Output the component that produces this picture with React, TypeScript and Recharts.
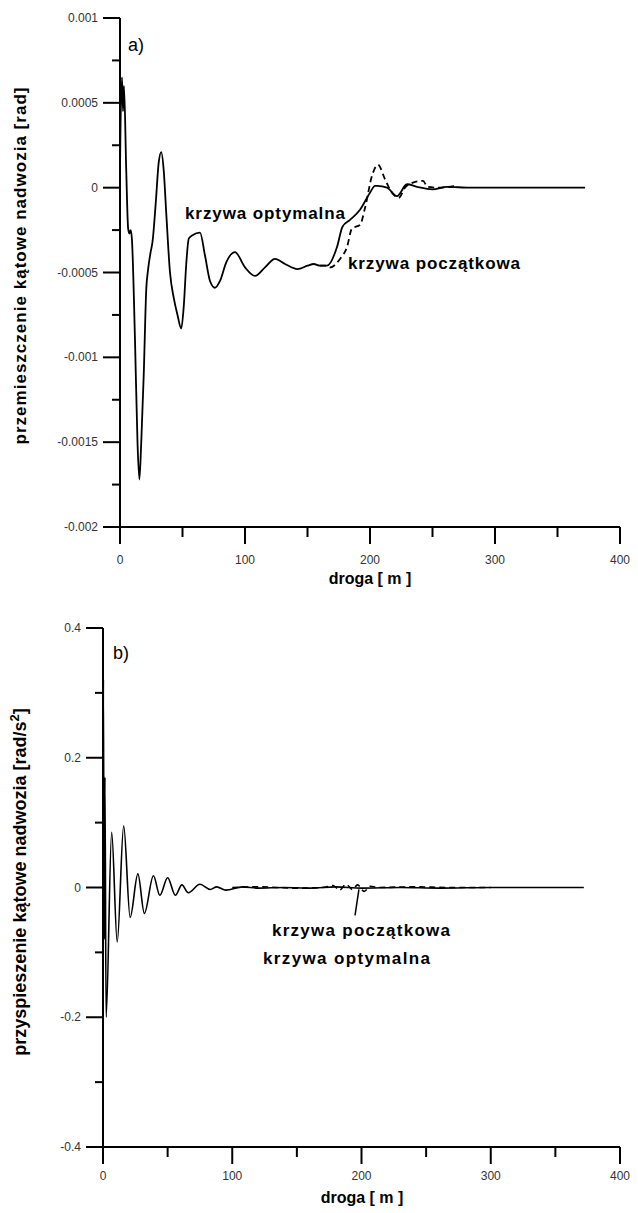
import React from "react";
import { Line, LineChart, ReferenceLine, XAxis, YAxis } from "recharts";

// a) angular displacement of the body [rad] vs distance [m]
const topDist = [
  0, 0.3, 1.6, 2.4, 3.2, 5, 6.5, 7.5, 8.5, 9.5, 12, 14, 15.5, 17, 19, 21, 22.5, 24.5, 26, 28.5, 31, 33, 35, 37,
  40, 43, 46, 49, 51, 53, 55, 58, 64, 68, 72, 76, 80, 85, 92, 100, 108, 116, 124, 132, 142, 150, 155, 160, 165.6,
  173.6, 178, 184, 192, 200, 204, 206, 213.6, 221.6, 229.6, 237.6, 250, 261.6, 280, 320, 372,
];
const topOptimal = [
  0.0001, 0.0003, 0.00065, 0.00045, 0.0006, 0.0001, -0.00024, -0.00027, -0.00025, -0.0003, -0.0009, -0.0015,
  -0.00172, -0.0015, -0.0011, -0.0006, -0.00048, -0.00038, -0.00032, -0.0001, 0.00015, 0.00021, 0.0001, -0.00015,
  -0.0005, -0.00065, -0.00075, -0.00083, -0.0007, -0.00045, -0.0003, -0.00028, -0.000265, -0.0004, -0.00055,
  -0.00059, -0.00055, -0.00044, -0.00038, -0.00047, -0.00052, -0.00047, -0.00042, -0.00045, -0.00048, -0.00046,
  -0.00045, -0.00046, -0.00046, -0.00035, -0.00023, -0.00019, -0.00013, -0.00003, 0.00001, 0.00001, 0, -0.00005,
  0.00002, 0.000005, -0.00001, 0.000005, 0, 0, 0,
];
const topInitialDist = [160, 165.6, 168, 176, 181.6, 185.6, 192, 196, 201.6, 206.4, 212, 217.6, 223, 228, 234.4, 242.4, 246, 255, 268];
const topInitial = [
  -0.00046, -0.00046, -0.00047, -0.00042, -0.00035, -0.00024, -0.00022, -0.00012, 0.00007, 0.000135, 0.00005,
  -0.00003, -0.00006, 0, 0.00003, 0.00004, 0.000005, 0, 0.00001,
];
const topYTicks = [
  -0.002, -0.00175, -0.0015, -0.00125, -0.001, -0.00075, -0.0005, -0.00025, 0, 0.00025, 0.0005, 0.00075, 0.001,
];
const topYLabels: Record<string, string> = {
  "-0.002": "-0.002",
  "-0.0015": "-0.0015",
  "-0.001": "-0.001",
  "-0.0005": "-0.0005",
  "0": "0",
  "0.0005": "0.0005",
  "0.001": "0.001",
};

// b) angular acceleration of the body [rad/s2] vs distance [m]
const bottomDist = [
  0, 0.3, 0.9, 1.5, 2.4, 6.7, 11, 16, 21, 27, 32, 39, 44, 50, 56, 61, 66, 75, 83, 88, 95, 108, 120, 140, 160, 180,
  200, 230, 260, 300, 340, 372,
];
const bottomOptimal = [
  0, 0.32, -0.08, 0.17, -0.2, 0.085, -0.084, 0.095, -0.046, 0.021, -0.04, 0.018, -0.012, 0.015, -0.012, 0.004,
  -0.008, 0.005, -0.003, 0.001, -0.004, 0.001, -0.001, 0, -0.001, 0.001, -0.001, 0, -0.001, 0, 0, 0,
];
const bottomInitialDist = [100, 120, 150, 170, 178, 183, 188, 193, 197, 202, 207, 212, 240, 270, 300];
const bottomInitial = [0, 0.001, -0.001, 0, 0.003, -0.004, 0.005, -0.003, 0.004, -0.006, 0.002, 0, 0.001, 0, 0];
const bottomYTicks = [-0.4, -0.3, -0.2, -0.1, 0, 0.1, 0.2, 0.3, 0.4];
const bottomYLabels: Record<string, string> = { "-0.4": "-0.4", "-0.2": "-0.2", "0": "0", "0.2": "0.2", "0.4": "0.4" };

const xTicks = [0, 50, 100, 150, 200, 250, 300, 350, 400];

const topOptimalData = topDist.map((d, i) => ({ d, v: topOptimal[i] }));
const topInitialData = topInitialDist.map((d, i) => ({ d, v: topInitial[i] }));
const bottomOptimalData = bottomDist.map((d, i) => ({ d, v: bottomOptimal[i] }));
const bottomInitialData = bottomInitialDist.map((d, i) => ({ d, v: bottomInitial[i] }));

const FONT = "'Liberation Sans', Arial, sans-serif";

type TickProps = { x?: number; y?: number; payload?: { value: number } };

function makeYTick(labels: Record<string, string>) {
  return ({ x = 0, y = 0, payload }: TickProps) => {
    const label = payload ? labels[String(payload.value)] : undefined;
    if (label === undefined) {
      return <line x1={x - 8} y1={y} x2={x} y2={y} stroke="#000" strokeWidth={2} />;
    }
    return (
      <g>
        <line x1={x - 17} y1={y} x2={x} y2={y} stroke="#000" strokeWidth={2} />
        <text x={x - 22} y={y + 4} textAnchor="end" fontFamily={FONT} fontSize={12} fill="#333">
          {label}
        </text>
      </g>
    );
  };
}

function makeXTick(labelDy: number) {
  return ({ x = 0, y = 0, payload }: TickProps) => {
    const value = payload ? payload.value : 0;
    if (value % 100 !== 0) {
      return <line x1={x} y1={y} x2={x} y2={y + 10} stroke="#000" strokeWidth={2} />;
    }
    return (
      <g>
        <line x1={x} y1={y} x2={x} y2={y + 17} stroke="#000" strokeWidth={2} />
        <text x={x} y={y + labelDy} textAnchor="middle" fontFamily={FONT} fontSize={12} fill="#333">
          {value}
        </text>
      </g>
    );
  };
}

const axisLine = { stroke: "#000", strokeWidth: 2 };

export default function App() {
  return (
    <div style={{ position: "absolute", left: 0, top: 0, width: 638, height: 1213, background: "#fff" }}>
      <div style={{ position: "absolute", left: 0, top: 0 }}>
        <LineChart width={638} height={600} margin={{ top: 18, right: 18, bottom: 0, left: 0 }}>
          <XAxis
            type="number"
            dataKey="d"
            domain={[0, 400]}
            ticks={xTicks}
            interval={0}
            height={73}
            tickSize={0}
            tickMargin={0}
            tickLine={false}
            axisLine={axisLine}
            tick={makeXTick(37)}
            allowDuplicatedCategory={false}
          />
          <YAxis
            type="number"
            dataKey="v"
            domain={[-0.002, 0.001]}
            ticks={topYTicks}
            interval={0}
            width={120}
            tickSize={0}
            tickMargin={0}
            tickLine={false}
            axisLine={axisLine}
            tick={makeYTick(topYLabels)}
          />
          <Line
            data={topInitialData}
            dataKey="v"
            type="monotone"
            stroke="#000"
            strokeWidth={1.8}
            strokeDasharray="6 4"
            dot={false}
            isAnimationActive={false}
          />
          <Line
            data={topOptimalData}
            dataKey="v"
            type="monotone"
            stroke="#000"
            strokeWidth={1.8}
            dot={false}
            isAnimationActive={false}
          />
          <text x={128} y={51} fontFamily={FONT} fontSize={18} fill="#000">
            a)
          </text>
          <text x={185} y={219} fontFamily={FONT} fontSize={17} fontWeight="bold" textLength={160} fill="#000">
            krzywa optymalna
          </text>
          <text x={348} y={269} fontFamily={FONT} fontSize={17} fontWeight="bold" textLength={172} fill="#000">
            krzywa początkowa
          </text>
          <text
            x={0}
            y={0}
            transform="translate(26 266) rotate(-90)"
            textAnchor="middle"
            fontFamily={FONT}
            fontSize={17}
            fontWeight="bold"
            textLength={357}
            fill="#000"
          >
            przemieszczenie kątowe nadwozia [rad]
          </text>
          <text x={370} y={584} textAnchor="middle" fontFamily={FONT} fontSize={16} fontWeight="bold" fill="#000">
            droga [ m ]
          </text>
        </LineChart>
      </div>
      <div style={{ position: "absolute", left: 0, top: 600 }}>
        <LineChart width={638} height={613} margin={{ top: 28, right: 18, bottom: 0, left: 0 }}>
          <XAxis
            type="number"
            dataKey="d"
            domain={[0, 400]}
            ticks={xTicks}
            interval={0}
            height={66}
            tickSize={0}
            tickMargin={0}
            tickLine={false}
            axisLine={axisLine}
            tick={makeXTick(33)}
            allowDuplicatedCategory={false}
          />
          <YAxis
            type="number"
            dataKey="v"
            domain={[-0.4, 0.4]}
            ticks={bottomYTicks}
            interval={0}
            width={103}
            tickSize={0}
            tickMargin={0}
            tickLine={false}
            axisLine={axisLine}
            tick={makeYTick(bottomYLabels)}
          />
          <Line
            data={bottomInitialData}
            dataKey="v"
            type="monotone"
            stroke="#000"
            strokeWidth={1.6}
            strokeDasharray="6 4"
            dot={false}
            isAnimationActive={false}
          />
          <Line
            data={bottomOptimalData}
            dataKey="v"
            type="monotone"
            stroke="#000"
            strokeWidth={1.6}
            dot={false}
            isAnimationActive={false}
          />
          <ReferenceLine
            segment={[
              { x: 198, y: -0.003 },
              { x: 195, y: -0.043 },
            ]}
            stroke="#000"
            strokeWidth={1.5}
          />
          <text x={113} y={59} fontFamily={FONT} fontSize={18} fill="#000">
            b)
          </text>
          <text x={272} y={336} fontFamily={FONT} fontSize={17} fontWeight="bold" textLength={178} fill="#000">
            krzywa początkowa
          </text>
          <text x={263} y={364} fontFamily={FONT} fontSize={17} fontWeight="bold" textLength={167} fill="#000">
            krzywa optymalna
          </text>
          <text
            x={0}
            y={0}
            transform="translate(26 282) rotate(-90)"
            textAnchor="middle"
            fontFamily={FONT}
            fontSize={18}
            fontWeight="bold"
            fill="#000"
          >
            przyspieszenie kątowe nadwozia [rad/s
            <tspan fontSize={13} dy={-7}>
              2
            </tspan>
            <tspan dy={7}>]</tspan>
          </text>
          <text x={362} y={603} textAnchor="middle" fontFamily={FONT} fontSize={16} fontWeight="bold" fill="#000">
            droga [ m ]
          </text>
        </LineChart>
      </div>
    </div>
  );
}
